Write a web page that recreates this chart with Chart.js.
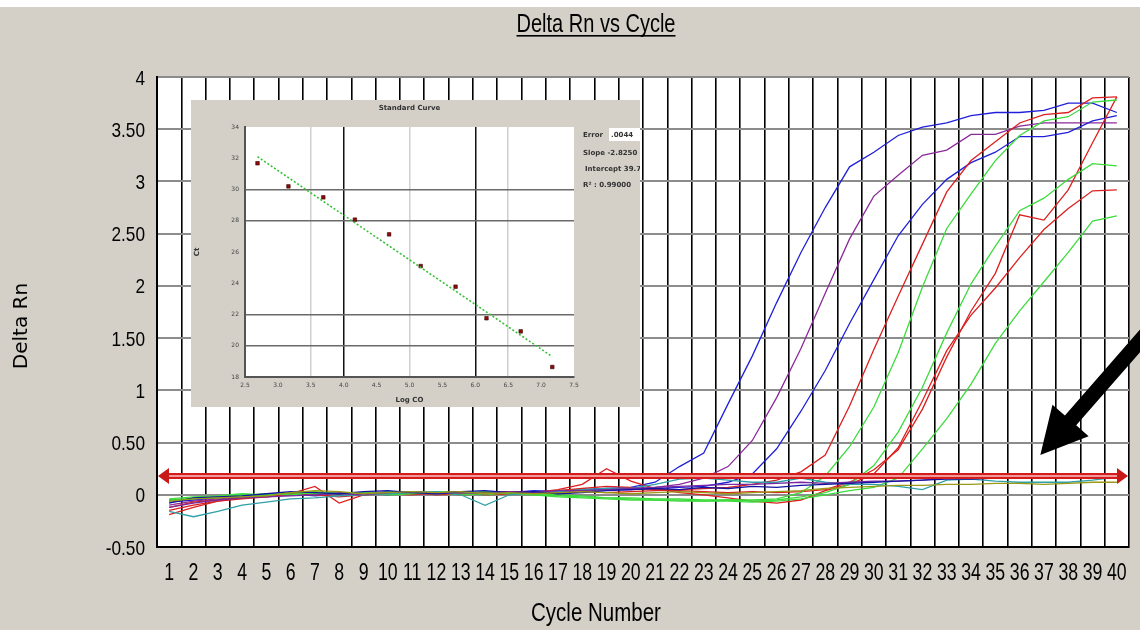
<!DOCTYPE html>
<html>
<head>
<meta charset="utf-8">
<title>Delta Rn vs Cycle</title>
<script src="https://cdn.jsdelivr.net/npm/chart.js@4.4.1/dist/chart.umd.min.js"></script>
<style>
  html, body { margin: 0; padding: 0; background: #d4d0c8; }
  #wrap { position: relative; width: 1140px; height: 630px; overflow: hidden; }
  #main { position: absolute; left: 0; top: 0; }
  #inset { position: absolute; left: 191px; top: 100px; width: 449px; height: 307px; filter: blur(0.6px); }
</style>
</head>
<body>
<div id="wrap">
  <canvas id="main" width="1140" height="630"></canvas>
  <div id="inset"><canvas id="std" width="449" height="307"></canvas></div>
</div>
<script>
// ---- amplification plot data ----
const cycles = ['1','2','3','4','5','6','7','8','9','10','11','12','13','14','15','16','17','18','19','20',
                '21','22','23','24','25','26','27','28','29','30','31','32','33','34','35','36','37','38','39','40'];

const yTickText = ['-0.50','0','0.50','1','1.50','2','2.50','3','3.50','4'];

const blueA   = [-0.07,-0.05,-0.03,-0.02,-0.01,0.00,0.01,0.00,0.01,0.02,0.01,0.02,0.03,0.01,0.02,0.03,0.04,0.05,0.06,0.07,
                 0.12,0.27,0.40,0.87,1.33,1.84,2.32,2.75,3.14,3.28,3.44,3.52,3.56,3.63,3.66,3.66,3.68,3.75,3.75,3.66];
const purpleA = [-0.10,-0.06,-0.04,-0.02,-0.02,0.00,0.01,0.02,0.01,0.03,0.02,0.01,0.02,0.00,0.02,0.03,0.02,0.04,0.05,0.05,
                 0.07,0.10,0.16,0.27,0.52,0.93,1.40,1.93,2.45,2.86,3.06,3.25,3.30,3.45,3.45,3.53,3.56,3.56,3.56,3.56];
const blueB   = [-0.05,-0.04,-0.02,-0.03,0.00,0.01,-0.01,0.01,0.02,0.00,0.03,0.02,0.01,0.03,0.02,0.04,0.03,0.05,0.05,0.05,
                 0.06,0.07,0.08,0.12,0.20,0.44,0.80,1.19,1.64,2.06,2.48,2.78,3.02,3.18,3.28,3.43,3.43,3.47,3.58,3.63];
const redA    = [-0.12,-0.07,-0.05,-0.03,-0.01,0.02,0.00,-0.02,0.00,0.01,0.02,0.00,0.01,0.02,0.03,0.02,0.01,0.03,0.02,0.03,
                 0.04,0.05,0.06,0.07,0.10,0.14,0.22,0.38,0.85,1.39,1.90,2.40,2.90,3.20,3.38,3.56,3.64,3.66,3.80,3.81];
const greenA  = [-0.05,-0.04,-0.02,0.00,-0.01,0.02,0.01,0.00,0.02,0.01,0.03,0.02,0.00,0.01,0.02,0.00,-0.01,-0.02,-0.03,-0.03,
                 -0.04,-0.04,-0.05,-0.05,-0.05,-0.04,0.02,0.18,0.46,0.84,1.36,1.99,2.55,2.88,3.20,3.44,3.58,3.62,3.76,3.78];
const greenB  = [-0.06,-0.03,-0.03,-0.01,0.01,0.00,0.02,0.01,0.00,0.03,0.02,0.01,0.02,0.03,0.01,0.00,-0.02,-0.03,-0.04,-0.05,
                 -0.05,-0.06,-0.06,-0.05,-0.06,-0.05,-0.02,0.02,0.10,0.28,0.60,1.03,1.55,2.02,2.38,2.72,2.84,3.02,3.17,3.15];
const greenC  = [-0.04,-0.02,-0.01,0.01,0.00,0.02,0.03,0.01,0.02,0.00,0.01,0.03,0.02,0.00,0.02,0.01,0.00,-0.01,-0.03,-0.04,
                 -0.05,-0.05,-0.06,-0.06,-0.07,-0.06,-0.04,0.00,0.04,0.07,0.16,0.44,0.73,1.06,1.45,1.76,2.04,2.32,2.62,2.67];
const redB    = [-0.15,-0.10,-0.06,-0.04,-0.02,0.01,0.08,-0.08,0.00,0.02,0.01,0.02,0.00,0.01,0.03,0.02,0.04,0.06,0.08,0.07,
                 0.05,0.04,0.03,0.02,0.03,0.02,0.03,0.05,0.12,0.24,0.43,0.82,1.32,1.76,2.12,2.68,2.63,2.92,3.37,3.81];
const redC    = [-0.19,-0.12,-0.06,-0.03,-0.01,0.00,0.02,0.01,0.02,0.01,0.00,0.02,0.03,0.00,0.01,0.02,0.05,0.10,0.25,0.13,
                 0.06,0.02,0.00,-0.03,-0.06,-0.08,-0.05,0.04,0.10,0.20,0.45,0.90,1.38,1.72,1.98,2.27,2.54,2.74,2.91,2.92];
const tealFlat   = [-0.16,-0.21,-0.16,-0.10,-0.07,-0.04,-0.03,-0.01,0.00,0.01,0.02,0.03,0.00,-0.10,0.00,0.02,0.03,0.05,0.06,0.06,
                    0.10,0.15,0.16,0.14,0.12,0.12,0.16,0.12,0.10,0.10,0.08,0.05,0.14,0.15,0.13,0.12,0.12,0.12,0.14,0.17];
const violetFlat = [-0.12,-0.08,-0.05,-0.03,-0.02,-0.01,0.00,0.01,0.00,0.02,0.03,0.01,0.02,0.01,0.03,0.02,0.04,0.04,0.05,0.06,
                    0.07,0.08,0.09,0.10,0.10,0.11,0.12,0.11,0.12,0.13,0.13,0.14,0.16,0.16,0.16,0.16,0.16,0.16,0.16,0.18];
const oliveFlat  = [-0.06,-0.04,-0.03,-0.02,-0.01,0.02,0.04,0.03,0.01,0.02,0.03,0.02,0.03,0.01,0.02,0.01,0.02,0.03,0.02,0.01,
                    0.02,0.03,0.02,0.01,0.02,0.03,0.04,0.06,0.07,0.08,0.09,0.09,0.10,0.10,0.11,0.11,0.10,0.11,0.12,0.12];
const navyFlat   = [-0.08,-0.03,-0.02,-0.01,0.01,0.03,0.02,0.01,0.03,0.04,0.02,0.01,0.03,0.04,0.02,0.03,0.01,0.02,0.04,0.05,
                    0.06,0.05,0.07,0.06,0.08,0.07,0.09,0.10,0.11,0.12,0.13,0.14,0.15,0.15,0.16,0.16,0.16,0.16,0.17,0.17];

const threshold = 0.18;

// ---- standard curve data ----
const stdLogQty = [2.69, 3.16, 3.69, 4.17, 4.69, 5.17, 5.70, 6.17, 6.69, 7.17];
const stdCt     = [31.68, 30.20, 29.50, 28.07, 27.13, 25.10, 23.78, 21.76, 20.92, 18.64];
const fitLogQty = [2.69, 7.17];
const fitCt     = [32.10, 19.30];
const stdInfo   = ['Slope -2.8250', 'Intercept 39.769', 'R\u00b2 : 0.99000'];
const stdError  = '.0044';

// ---- styling ----
const SANS = "'Liberation Sans', Arial, sans-serif";
const PANEL = '#d4d0c8';

const traces = [
  { data: oliveFlat,  color: '#9a9a18' },
  { data: navyFlat,   color: '#1414a0' },
  { data: violetFlat, color: '#7a2aa0' },
  { data: tealFlat,   color: '#30a0a8' },
  { data: greenC,     color: '#3cdc3c' },
  { data: greenB,     color: '#3cdc3c' },
  { data: greenA,     color: '#3cdc3c' },
  { data: redC,       color: '#dc2020' },
  { data: redB,       color: '#dc2020' },
  { data: redA,       color: '#dc2020' },
  { data: blueB,      color: '#2020d8' },
  { data: purpleA,    color: '#8a2a9a' },
  { data: blueA,      color: '#2020d8' }
];

// text in a horizontally squeezed sans, the look of a narrow face
function narrowText(ctx, text, x, y, align, size, squeeze) {
  ctx.save();
  ctx.translate(x, y);
  ctx.scale(squeeze, 1);
  ctx.font = size + 'px ' + SANS;
  ctx.textAlign = align;
  ctx.fillText(text, 0, 0);
  const w = ctx.measureText(text).width * squeeze;
  ctx.restore();
  return w;
}

// page frame, white plot background, titles and tick labels
const framePlugin = {
  id: 'frame',
  beforeDraw(chart) {
    const { ctx, chartArea: a } = chart;
    ctx.save();
    ctx.fillStyle = PANEL;
    ctx.fillRect(0, 0, chart.width, chart.height);
    ctx.fillStyle = '#ffffff';
    ctx.fillRect(0, 0, chart.width, 7);
    ctx.fillRect(a.left, a.top, a.right - a.left, a.bottom - a.top);
    ctx.restore();
  },
  afterDraw(chart) {
    const { ctx, chartArea: a, scales: { x, y } } = chart;
    ctx.save();
    ctx.fillStyle = '#000';
    ctx.textBaseline = 'alphabetic';

    const titleX = 596;
    const w = narrowText(ctx, 'Delta Rn vs Cycle', titleX, 32, 'center', 25, 0.8);
    ctx.fillRect(titleX - w / 2, 35, w, 1.6);
    narrowText(ctx, 'Cycle Number', titleX, 621, 'center', 25, 0.82);

    // y tick labels
    y.ticks.forEach((t, i) => {
      narrowText(ctx, yTickText[i], a.left - 12, y.getPixelForValue(t.value) + 7.5, 'right', 21, 0.82);
    });
    // x tick labels
    cycles.forEach((c, i) => {
      narrowText(ctx, c, x.getPixelForValue(i), a.bottom + 33, 'center', 23, 0.77);
    });

    ctx.translate(27, 326);
    ctx.rotate(-Math.PI / 2);
    ctx.font = "20px 'DejaVu Sans', sans-serif";
    ctx.textAlign = 'center';
    ctx.fillText('Delta Rn', 0, 0);
    ctx.restore();
  }
};

// threshold bar and the pointer arrow
const markPlugin = {
  id: 'marks',
  afterDatasetsDraw(chart) {
    const { ctx, chartArea: a, scales: { x, y } } = chart;
    const ty = y.getPixelForValue(threshold);
    ctx.save();
    ctx.lineCap = 'butt';
    ctx.strokeStyle = '#d41c1c';
    ctx.lineWidth = 6;
    ctx.beginPath(); ctx.moveTo(a.left + 8, ty); ctx.lineTo(a.right - 8, ty); ctx.stroke();
    ctx.strokeStyle = '#f29a9a';
    ctx.lineWidth = 2;
    ctx.beginPath(); ctx.moveTo(a.left + 8, ty); ctx.lineTo(a.right - 8, ty); ctx.stroke();
    ctx.fillStyle = '#c81818';
    ctx.beginPath(); ctx.moveTo(a.left + 1, ty); ctx.lineTo(a.left + 12, ty - 8); ctx.lineTo(a.left + 12, ty + 8); ctx.closePath(); ctx.fill();
    ctx.beginPath(); ctx.moveTo(a.right - 1, ty); ctx.lineTo(a.right - 12, ty - 8); ctx.lineTo(a.right - 12, ty + 8); ctx.closePath(); ctx.fill();

    // pointer arrow, anchored in cycle / Delta Rn units
    const tipX = x.getPixelForValue(36.85 - 1), tipY = y.getPixelForValue(0.38);
    const tailX = x.getPixelForValue(41.8 - 1), tailY = y.getPixelForValue(1.70);
    const dx = tipX - tailX, dy = tipY - tailY, len = Math.hypot(dx, dy);
    const ux = dx / len, uy = dy / len, px = -uy, py = ux;
    const headLen = 46, headHalf = 24, shaftHalf = 7.5;
    const bx = tipX - ux * headLen, by = tipY - uy * headLen;
    ctx.fillStyle = '#000';
    ctx.beginPath();
    ctx.moveTo(tailX + px * shaftHalf, tailY + py * shaftHalf);
    ctx.lineTo(bx + px * shaftHalf, by + py * shaftHalf);
    ctx.lineTo(bx + px * headHalf, by + py * headHalf);
    ctx.lineTo(tipX, tipY);
    ctx.lineTo(bx - px * headHalf, by - py * headHalf);
    ctx.lineTo(bx - px * shaftHalf, by - py * shaftHalf);
    ctx.lineTo(tailX - px * shaftHalf, tailY - py * shaftHalf);
    ctx.closePath();
    ctx.fill();
    ctx.restore();
  }
};

new Chart(document.getElementById('main'), {
  type: 'line',
  data: {
    labels: cycles,
    datasets: traces.map(t => ({
      data: t.data,
      borderColor: t.color,
      borderWidth: 1.3,
      pointRadius: 0,
      tension: 0,
      fill: false
    }))
  },
  options: {
    responsive: false,
    animation: false,
    events: [],
    layout: { padding: { top: 77, left: 0, right: 11, bottom: 0 } },
    plugins: { legend: { display: false }, title: { display: false }, tooltip: { enabled: false } },
    scales: {
      x: {
        type: 'category',
        offset: true,
        grid: { offset: true, color: '#000', lineWidth: 1.6, drawTicks: false },
        border: { color: '#000', width: 2 },
        ticks: { display: false, autoSkip: false, maxRotation: 0 },
        afterFit: s => { s.height = 83; }
      },
      y: {
        min: -0.5, max: 4,
        grid: { color: '#8c8c8c', lineWidth: 2, drawTicks: false },
        border: { color: '#000', width: 2 },
        ticks: { display: false, stepSize: 0.5 },
        afterFit: s => { s.width = 157; }
      }
    }
  },
  plugins: [framePlugin, markPlugin]
});

// ---- standard curve inset ----
const insetStyle = {
  darkY: [20, 22, 28, 30],
  blackX: [4, 6],
  lightX: [3.5, 5, 6.5]
};

const insetFrame = {
  id: 'insetFrame',
  beforeDraw(chart) {
    const { ctx, chartArea: a } = chart;
    ctx.save();
    ctx.fillStyle = PANEL;
    ctx.fillRect(0, 0, chart.width, chart.height);
    ctx.fillStyle = '#fff';
    ctx.fillRect(a.left, a.top, a.right - a.left, a.bottom - a.top);
    ctx.restore();
  },
  afterDraw(chart) {
    const { ctx, chartArea: a } = chart;
    ctx.save();
    ctx.fillStyle = '#333';
    ctx.textAlign = 'center';
    ctx.font = "bold 7px 'DejaVu Sans', sans-serif";
    ctx.fillText('Standard Curve', (a.left + a.right) / 2, 10);
    ctx.fillText('Log CO', (a.left + a.right) / 2, 302);
    ctx.save();
    ctx.translate(8, (a.top + a.bottom) / 2);
    ctx.rotate(-Math.PI / 2);
    ctx.fillText('Ct', 0, 0);
    ctx.restore();
    ctx.textAlign = 'left';
    const sx = a.right + 9;
    ctx.fillText('Error', sx, 37);
    ctx.fillStyle = '#fff';
    ctx.fillRect(sx + 26, 28, 40, 13);
    ctx.fillStyle = '#333';
    ctx.fillText(stdError, sx + 28, 37);
    stdInfo.forEach((t, i) => ctx.fillText(t, sx + (i === 1 ? 2 : 0), 55 + i * 16));
    ctx.restore();
  }
};

new Chart(document.getElementById('std'), {
  type: 'scatter',
  data: {
    datasets: [
      {
        type: 'line',
        data: fitLogQty.map((v, i) => ({ x: v, y: fitCt[i] })),
        borderColor: '#36c036',
        borderWidth: 1.6,
        borderDash: [2, 2],
        pointRadius: 0
      },
      {
        data: stdLogQty.map((v, i) => ({ x: v, y: stdCt[i] })),
        pointStyle: 'rect',
        pointRadius: 2.5,
        backgroundColor: '#8c0c0c',
        borderColor: '#3a0000',
        borderWidth: 0.6
      }
    ]
  },
  options: {
    responsive: false,
    animation: false,
    events: [],
    layout: { padding: { top: 27, left: 0, right: 66, bottom: 0 } },
    plugins: { legend: { display: false }, tooltip: { enabled: false } },
    scales: {
      x: {
        type: 'linear', min: 2.5, max: 7.5,
        grid: {
          drawTicks: false, lineWidth: 1.5,
          color: c => insetStyle.blackX.includes(c.tick.value) ? '#111'
                    : insetStyle.lightX.includes(c.tick.value) ? '#cfcfcf' : 'rgba(0,0,0,0)'
        },
        border: { color: '#555', width: 2 },
        ticks: { stepSize: 0.5, color: '#444', padding: 5, font: { size: 6, family: "'DejaVu Sans', sans-serif" } },
        afterFit: s => { s.height = 30; }
      },
      y: {
        min: 18, max: 34,
        grid: {
          drawTicks: false, lineWidth: 1.5,
          color: c => insetStyle.darkY.includes(c.tick.value) ? '#6a6a6a' : 'rgba(0,0,0,0)'
        },
        border: { color: '#555', width: 2 },
        ticks: { stepSize: 2, color: '#444', padding: 6, font: { size: 6, family: "'DejaVu Sans', sans-serif" } },
        afterFit: s => { s.width = 54; }
      }
    }
  },
  plugins: [insetFrame]
});
</script>
</body>
</html>
